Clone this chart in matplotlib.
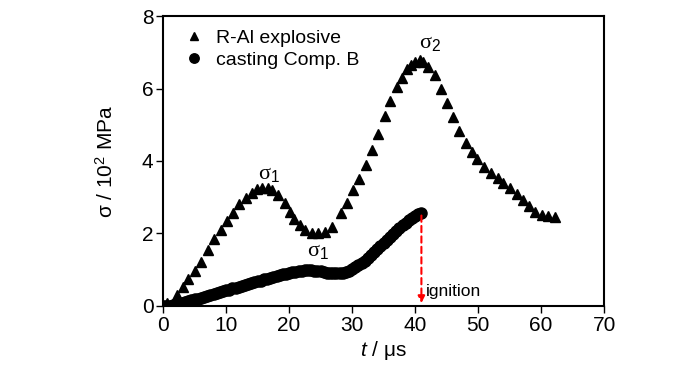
import numpy as np
import matplotlib.pyplot as plt

plt.rcParams['font.family'] = ['Liberation Sans', 'DejaVu Sans']
plt.rcParams['mathtext.fontset'] = 'custom'
plt.rcParams['mathtext.rm'] = 'Liberation Sans'
plt.rcParams['mathtext.it'] = 'Liberation Sans:italic'

# R-Al explosive (triangles)
t_ral = [0, 0.6, 2.2, 3.2, 4.0, 5.1, 6.0, 7.1, 8.1, 9.2, 10.1, 11.1, 12.1, 13.2,
         14.1, 14.9, 15.7, 16.7, 17.3, 18.3, 19.4, 20.2, 20.8, 21.7, 22.5, 23.7,
         24.6, 25.7, 26.8, 28.3, 29.2, 30.2, 31.1, 32.2, 33.2, 34.1, 35.2, 36.0,
         37.1, 37.9, 38.7, 39.4, 40.0, 40.8, 41.3, 42.0, 43.2, 44.1, 45.0, 46.0,
         47.0, 48.1, 49.0, 49.8, 51.0, 52.0, 53.2, 54.0, 55.0, 56.2, 57.2, 58.1,
         59.0, 60.2, 61.1, 62.2]
s_ral = [0.0, 0.07, 0.30, 0.53, 0.74, 0.97, 1.22, 1.54, 1.84, 2.10, 2.33, 2.57, 2.80, 2.97,
         3.12, 3.22, 3.25, 3.25, 3.20, 3.06, 2.84, 2.60, 2.40, 2.23, 2.10, 2.01,
         2.01, 2.05, 2.18, 2.57, 2.85, 3.20, 3.50, 3.90, 4.30, 4.74, 5.24, 5.65,
         6.05, 6.30, 6.53, 6.65, 6.73, 6.78, 6.72, 6.60, 6.37, 6.00, 5.60, 5.20,
         4.83, 4.50, 4.25, 4.05, 3.84, 3.67, 3.53, 3.40, 3.26, 3.10, 2.92, 2.76,
         2.60, 2.50, 2.47, 2.45]

# casting Comp. B (circles)
t_compb = [0, 0.5, 1, 1.5, 2, 2.5, 3, 3.5, 4, 4.5, 5, 5.5, 6, 6.5, 7, 7.5, 8, 8.5,
           9, 9.5, 10, 10.5, 11, 11.5, 12, 12.5, 13, 13.5, 14, 14.5, 15, 15.5, 16,
           16.5, 17, 17.5, 18, 18.5, 19, 19.5, 20, 20.5, 21, 21.5, 22, 22.5, 23,
           23.5, 24, 24.5, 25, 25.5, 26, 26.5, 27, 27.5, 28, 28.5, 29, 29.5, 30,
           30.5, 31, 31.5, 32, 32.5, 33, 33.5, 34, 34.5, 35, 35.5, 36, 36.5, 37,
           37.5, 38, 38.5, 39, 39.5, 40, 40.5, 41]
s_compb = [0.0, 0.0, 0.01, 0.02, 0.04, 0.06, 0.08, 0.10, 0.13, 0.15, 0.18, 0.20, 0.23,
           0.25, 0.28, 0.30, 0.33, 0.35, 0.38, 0.40, 0.43, 0.45, 0.48, 0.50, 0.53,
           0.55, 0.58, 0.60, 0.63, 0.65, 0.68, 0.70, 0.73, 0.75, 0.78, 0.80, 0.83,
           0.85, 0.87, 0.89, 0.91, 0.93, 0.94, 0.96, 0.97, 0.98, 0.98, 0.98, 0.97,
           0.96, 0.95, 0.93, 0.92, 0.91, 0.90, 0.90, 0.90, 0.91, 0.94, 0.97, 1.02,
           1.07, 1.12, 1.18, 1.25, 1.32, 1.40, 1.48, 1.56, 1.64, 1.73, 1.81, 1.90,
           1.98, 2.07, 2.15, 2.22, 2.29, 2.36, 2.42, 2.48, 2.53, 2.57]

fig = plt.figure(figsize=(7, 3.65), dpi=100)
ax = fig.add_axes([0.233, 0.162, 0.63, 0.794])

ax.plot(t_ral, s_ral, '^', color='black', markersize=7.5, label='R-Al explosive',
        linestyle='none')
ax.plot(t_compb, s_compb, 'o', color='black', markersize=8, label='casting Comp. B',
        linestyle='none')

# ignition arrow
ax.annotate('', xy=(t_compb[-1], 0.0), xytext=(t_compb[-1], s_compb[-1]),
            arrowprops=dict(arrowstyle='-|>', color='red', linestyle=(0, (3, 2)),
                            lw=1.5, mutation_scale=10))
ax.text(41.7, 0.2, 'ignition', fontsize=12.5, ha='left', va='bottom')

# peak labels: upright serif sigma, sans subscript
sig_font = dict(fontsize=16, ha='center', va='bottom',
                family=['Liberation Serif', 'DejaVu Serif'])
ax.text(16.8, 3.35, r'σ$_1$', **sig_font)
ax.text(24.6, 1.2, r'σ$_1$', **sig_font)
ax.text(42.3, 6.95, r'σ$_2$', **sig_font)

ax.set_xlim(0, 70)
ax.set_ylim(0, 8)
ax.set_xticks(range(0, 71, 10))
ax.set_yticks(range(0, 9, 2))
ax.tick_params(direction='out', length=5, width=1.0, labelsize=15, pad=2,
               top=False, right=False)
for sp in ax.spines.values():
    sp.set_linewidth(1.5)

ax.set_xlabel(r'$t$ / μs', fontsize=15, labelpad=3)
ax.set_ylabel(r'σ / 10$^2$ MPa', fontsize=15, labelpad=18)

ax.legend(loc='upper left', frameon=False, fontsize=14, handletextpad=0.2,
          borderaxespad=0.3, labelspacing=0.2, handlelength=1.8,
          markerscale=0.85, bbox_to_anchor=(0.0, 1.0))

fig.savefig('out.png', dpi=100)
